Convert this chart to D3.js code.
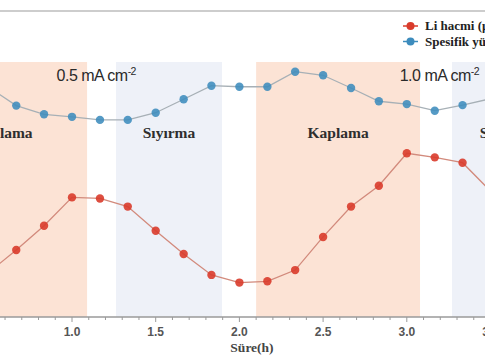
<!DOCTYPE html>
<html>
<head>
<meta charset="utf-8">
<script src="https://cdn.jsdelivr.net/npm/d3@7/dist/d3.min.js"></script>
<style>
  html, body { margin: 0; padding: 0; background: #fff; }
  svg { display: block; }
</style>
</head>
<body>
<svg id="chart" width="485" height="360"></svg>
<script>
// ---- data ----
const times = [0.5, 0.667, 0.833, 1.0, 1.167, 1.333, 1.5, 1.667, 1.833, 2.0,
               2.167, 2.333, 2.5, 2.667, 2.833, 3.0, 3.167, 3.333, 3.5];
const liVolume = [17.3, 26.3, 35.8, 46.9, 46.5, 43.3, 33.8, 24.7, 16.5, 13.5,
                  14.0, 18.4, 31.4, 43.3, 51.5, 64.2, 62.6, 60.5, 49.4];
const specSurface = [90.2, 82.9, 79.5, 78.5, 77.3, 77.3, 80.1, 85.4, 90.7, 90.3,
                     90.3, 96.2, 94.8, 89.8, 84.6, 83.5, 80.9, 83.1, 85.6];
const bandStarts = [0.074, 1.263, 2.10, 3.27];
const bandEnds   = [1.09, 1.896, 3.079, 3.916];
const bandTypes  = ["plating", "stripping", "plating", "stripping"];
const bandLabels = ["Kaplama", "Sıyırma", "Kaplama", "Sıyırma"];
const currentLabels = ["0.5 mA cm", "1.0 mA cm"];
const currentTimes = [1.145, 3.195];
const majorTicks = [0.5, 1.0, 1.5, 2.0, 2.5, 3.0, 3.5];
const minorTicks = [0.6, 0.7, 0.8, 0.9, 1.1, 1.2, 1.3, 1.4, 1.6, 1.7, 1.8, 1.9,
                    2.1, 2.2, 2.3, 2.4, 2.6, 2.7, 2.8, 2.9, 3.1, 3.2, 3.3, 3.4];
const legendLabels = ["Li hacmi (μm³)", "Spesifik yüzey alanı (μm⁻¹)"];
const xTitle = "Süre(h)";

// ---- layout ----
const svg = d3.select("#chart");
const axisY = 317, plotTop = 62;
const x = d3.scaleLinear().domain([1, 3]).range([72, 406.8]);
const y = d3.scaleLinear().domain([0, 100]).range([axisY, plotTop]);

const bandFill = { plating: "#fce3d5", stripping: "#eef1f8" };

// top frame line
svg.append("line").attr("x1", 0).attr("x2", 485).attr("y1", 11).attr("y2", 11)
  .attr("stroke", "#cdcdcd").attr("stroke-width", 2);

// bands
const bands = bandStarts.map((s, i) => ({ s, e: bandEnds[i], type: bandTypes[i], label: bandLabels[i] }));
svg.append("g").selectAll("rect").data(bands).join("rect")
  .attr("x", d => x(d.s)).attr("width", d => x(d.e) - x(d.s))
  .attr("y", plotTop).attr("height", axisY - plotTop)
  .attr("fill", d => bandFill[d.type]);

svg.append("g").selectAll("text").data(bands).join("text")
  .attr("x", d => x((d.s + d.e) / 2)).attr("y", 138)
  .attr("text-anchor", "middle")
  .attr("font-family", "'Liberation Serif', 'Times New Roman', serif")
  .attr("font-weight", "bold").attr("font-size", 15.5).attr("fill", "#2e2e2e")
  .text(d => d.label);

// current density labels
const cl = svg.append("g").selectAll("text").data(currentLabels).join("text")
  .attr("x", (d, i) => x(currentTimes[i])).attr("y", 81)
  .attr("text-anchor", "middle")
  .attr("font-family", "'Liberation Sans', Arial, sans-serif")
  .attr("font-size", 16).attr("fill", "#2a2a2a").attr("letter-spacing", -0.5);
cl.append("tspan").text(d => d);
cl.append("tspan").attr("dy", -6).attr("font-size", 10.5).text("-2");

// x axis
const axisG = svg.append("g").attr("transform", `translate(0,${axisY})`);
axisG.append("line").attr("x1", 0).attr("x2", 485).attr("y1", 0).attr("y2", 0)
  .attr("stroke", "#9a9a9a").attr("stroke-width", 1.5);
axisG.append("g").selectAll("line").data(minorTicks).join("line")
  .attr("x1", d => x(d)).attr("x2", d => x(d)).attr("y1", 0).attr("y2", 3)
  .attr("stroke", "#9a9a9a").attr("stroke-width", 1);
axisG.append("g").selectAll("line").data(majorTicks).join("line")
  .attr("x1", d => x(d)).attr("x2", d => x(d)).attr("y1", 0).attr("y2", 5)
  .attr("stroke", "#9a9a9a").attr("stroke-width", 1);
axisG.append("g").selectAll("text").data(majorTicks).join("text")
  .attr("x", d => x(d)).attr("y", 19)
  .attr("text-anchor", "middle")
  .attr("font-family", "'Liberation Sans', Arial, sans-serif")
  .attr("font-weight", "bold").attr("font-size", 12).attr("fill", "#555")
  .text(d => d.toFixed(1));

svg.append("text").attr("x", 252).attr("y", 352).attr("text-anchor", "middle")
  .attr("font-family", "'Liberation Serif', 'Times New Roman', serif")
  .attr("font-weight", "bold").attr("font-size", 13.5).attr("fill", "#444")
  .text(xTitle);

// series
const series = [
  { values: specSurface, line: "#a7b0b6", dot: "#3d8cbd", op: 0.88 },
  { values: liVolume, line: "#d28a7c", dot: "#d93b2b", op: 0.9 }
];
const lineGen = d3.line().x(d => x(d[0])).y(d => y(d[1]));
series.forEach(s => {
  const pts = times.map((t, i) => [t, s.values[i]]);
  svg.append("path").datum(pts).attr("d", lineGen)
    .attr("fill", "none").attr("stroke", s.line).attr("stroke-width", 1.3);
  svg.append("g").selectAll("circle").data(pts).join("circle")
    .attr("cx", d => x(d[0])).attr("cy", d => y(d[1])).attr("r", 4.2)
    .attr("fill", s.dot).attr("fill-opacity", s.op);
});

// legend
const legendColors = ["#d93b2b", "#3d8cbd"];
const lg = svg.append("g").selectAll("g").data(legendLabels).join("g")
  .attr("transform", (d, i) => `translate(0,${26 + i * 15.5})`);
lg.append("line").attr("x1", 403).attr("x2", 418).attr("y1", 0).attr("y2", 0)
  .attr("stroke", (d, i) => legendColors[i]).attr("stroke-width", 1.5);
lg.append("circle").attr("cx", 410.5).attr("cy", 0).attr("r", 4)
  .attr("fill", (d, i) => legendColors[i]);
lg.append("text").attr("x", 425).attr("y", 4)
  .attr("font-family", "'Liberation Serif', 'Times New Roman', serif")
  .attr("font-weight", "bold").attr("font-size", 13).attr("fill", "#222")
  .text(d => d);
</script>
</body>
</html>
